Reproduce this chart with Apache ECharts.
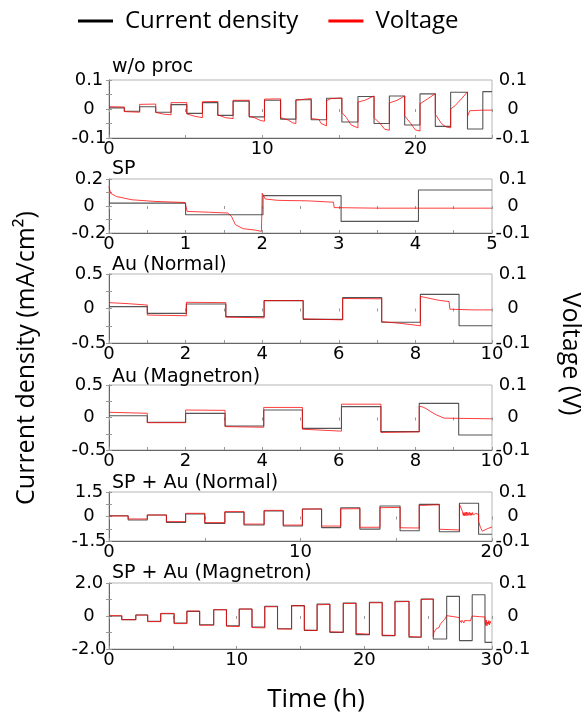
<!DOCTYPE html>
<html>
<head>
<meta charset="utf-8">
<script src="https://cdn.jsdelivr.net/npm/echarts@6/dist/echarts.min.js"></script>
<style>
  html, body { margin: 0; padding: 0; background: #fff; }
  #chart { width: 586px; height: 715px; }
</style>
</head>
<body>
<div id="chart"></div>
<script>
// ---------- Panel titles ----------
const panelTitles = ['w/o proc', 'SP', 'Au (Normal)', 'Au (Magnetron)', 'SP + Au (Normal)', 'SP + Au (Magnetron)'];

// ---------- w/o proc ----------
const stepTimesWoProc = [0, 1.0, 2.0, 3.05, 4.05, 5.08, 6.1, 7.1, 8.1, 9.15, 10.15, 11.2, 12.2, 13.2, 14.2, 15.2, 16.25, 17.3, 18.3, 19.3, 20.3, 21.3, 22.3, 23.4, 24.4, 25];
const currentWoProc = [0.004, -0.008, 0.008, -0.011, 0.015, -0.015, 0.022, -0.022, 0.027, -0.027, 0.03, -0.035, 0.032, -0.037, 0.037, -0.045, 0.043, -0.05, 0.045, -0.055, 0.052, -0.06, 0.058, -0.069, 0.06];
const voltageWoProc = [
  [0, 0.008], [1.0, 0.007],
  [1.0, -0.009], [2.0, -0.011],
  [2.0, 0.016], [3.05, 0.017],
  [3.05, -0.012], [3.6, -0.018], [4.05, -0.02],
  [4.05, 0.022], [5.08, 0.022],
  [5.08, -0.017], [5.6, -0.025], [6.1, -0.03],
  [6.1, 0.025], [7.1, 0.026],
  [7.1, -0.02], [7.6, -0.03], [8.1, -0.033],
  [8.1, 0.03], [9.15, 0.03],
  [9.15, -0.025], [9.5, -0.03], [9.9, -0.04], [10.15, -0.042],
  [10.15, 0.034], [11.2, 0.035],
  [11.2, -0.03], [11.7, -0.038], [12.0, -0.048], [12.2, -0.05],
  [12.2, 0.03], [12.8, 0.034], [13.2, 0.036],
  [13.2, -0.033], [13.7, -0.036], [13.85, -0.05], [14.2, -0.058],
  [14.2, 0.029], [14.5, 0.036], [15.2, 0.038],
  [15.2, -0.012], [15.5, -0.03], [15.8, -0.055], [16.25, -0.065],
  [16.25, 0.024], [16.7, 0.03], [17.3, 0.045],
  [17.3, -0.03], [17.7, -0.05], [18.0, -0.07], [18.3, -0.073],
  [18.3, 0.021], [18.8, 0.03], [19.3, 0.045],
  [19.3, -0.024], [19.7, -0.05], [20.0, -0.072], [20.3, -0.076],
  [20.3, 0.018], [20.8, 0.035], [21.3, 0.053],
  [21.3, -0.018], [21.7, -0.05], [22.0, -0.062], [22.3, -0.065],
  [22.3, 0.0], [22.6, 0.012], [23.0, 0.035], [23.4, 0.059],
  [23.4, -0.025], [23.55, -0.006], [24.4, -0.004], [25, -0.004]
];

// ---------- SP ----------
const stepTimesSP = [0, 1.0, 2.01, 3.03, 4.04, 5];
const currentSP = [0.021, -0.065, 0.077, -0.114, 0.119];
const voltageSP = [
  [0, 0.072], [0.02, 0.047], [0.1, 0.035], [0.3, 0.023], [0.6, 0.017], [0.99, 0.013],
  [1.0, 0.004], [1.02, -0.02], [1.3, -0.023], [1.55, -0.026], [1.6, -0.039], [1.65, -0.069], [1.75, -0.084], [1.9, -0.089], [1.99, -0.094],
  [2.0, 0.047], [2.02, 0.051], [2.04, 0.026], [2.2, 0.021], [2.6, 0.019], [2.93, 0.014],
  [2.94, -0.006], [3.5, -0.008], [5, -0.008]
];

// ---------- Au (Normal) ----------
const stepTimesAuN = [0, 1.0, 2.02, 3.05, 4.05, 5.07, 6.1, 7.12, 8.13, 9.14, 10];
const currentAuN = [0.027, -0.07, 0.065, -0.118, 0.114, -0.157, 0.157, -0.2, 0.205, -0.249];
const voltageAuN = [
  [0, 0.017], [0.5, 0.014], [1.0, 0.010],
  [1.0, -0.019], [2.02, -0.021],
  [2.02, 0.018], [3.05, 0.017],
  [3.05, -0.025], [4.05, -0.027],
  [4.05, 0.023], [5.07, 0.023],
  [5.07, -0.030], [6.1, -0.033],
  [6.1, 0.029], [7.12, 0.028],
  [7.12, -0.038], [7.6, -0.043], [8.13, -0.05],
  [8.13, 0.035], [8.3, 0.031], [8.6, 0.024], [8.88, 0.02],
  [8.9, -0.002], [9.5, -0.004], [10, -0.004]
];

// ---------- Au (Magnetron) ----------
const stepTimesAuM = [0, 1.0, 2.0, 3.03, 4.04, 5.05, 6.07, 7.1, 8.1, 9.13, 10];
const currentAuM = [0.028, -0.074, 0.064, -0.131, 0.115, -0.167, 0.167, -0.218, 0.218, -0.269];
const voltageAuM = [
  [0, 0.016], [1.0, 0.013],
  [1.0, -0.016], [2.0, -0.016],
  [2.0, 0.023], [3.03, 0.022],
  [3.03, -0.028], [4.04, -0.030],
  [4.04, 0.031], [5.05, 0.031],
  [5.05, -0.036], [6.07, -0.042],
  [6.07, 0.041], [7.1, 0.041],
  [7.1, -0.046], [8.1, -0.044],
  [8.1, 0.035], [8.2, 0.032], [8.3, 0.026], [8.4, 0.018], [8.55, 0.008], [8.75, -0.002], [10, -0.004]
];

// ---------- SP + Au (Normal) ----------
const stepTimesSPAuN = [0, 1.0, 2.0, 3.0, 4.0, 5.0, 6.05, 7.05, 8.1, 9.1, 10.1, 11.1, 12.1, 13.1, 14.15, 15.2, 16.2, 17.25, 18.3, 19.3, 20];
const currentSPAuN = [0.05, -0.21, 0.09, -0.36, 0.15, -0.42, 0.26, -0.52, 0.34, -0.58, 0.46, -0.68, 0.54, -0.77, 0.64, -0.87, 0.74, -0.93, 0.81, -1.09];
const voltageSPAuN = [
  [0, 0.002], [1.0, 0.002],
  [1.0, -0.01], [2.0, -0.01],
  [2.0, 0.006], [3.0, 0.006],
  [3.0, -0.021], [4.0, -0.021],
  [4.0, 0.013], [5.0, 0.013],
  [5.0, -0.025], [6.05, -0.025],
  [6.05, 0.02], [7.05, 0.02],
  [7.05, -0.031], [8.1, -0.031],
  [8.1, 0.025], [9.1, 0.025],
  [9.1, -0.035], [10.1, -0.035],
  [10.1, 0.03], [11.1, 0.031],
  [11.1, -0.039], [12.1, -0.039],
  [12.1, 0.031], [13.1, 0.032],
  [13.1, -0.044], [14.15, -0.044],
  [14.15, 0.036], [15.2, 0.037],
  [15.2, -0.046], [16.2, -0.047],
  [16.2, 0.045], [17.25, 0.048],
  [17.25, -0.052], [18.3, -0.055],
  [18.3, 0.05], [18.4, 0.046], [18.46, 0.02], [18.5, 0.004], [18.53, 0.016], [18.56, 0.003], [18.6, 0.017],
  [18.63, 0.004], [18.67, 0.018], [18.7, 0.003], [18.74, 0.016], [18.78, 0.005], [18.82, 0.017], [18.86, 0.004],
  [18.9, 0.015], [18.94, 0.005], [18.98, 0.016], [19.02, 0.006], [19.06, 0.014], [19.1, 0.005], [19.15, 0.013],
  [19.2, 0.006], [19.25, 0.011], [19.3, 0.008],
  [19.3, -0.02], [19.4, -0.045], [19.5, -0.06], [19.6, -0.058], [19.75, -0.05], [20, -0.043]
];

// ---------- SP + Au (Magnetron) ----------
const stepTimesSPAuM = [0, 1.0, 2.1, 3.03, 4.05, 5.1, 6.1, 7.1, 8.2, 9.2, 10.2, 11.2, 12.2, 13.2, 14.3, 15.3, 16.3, 17.3, 18.35, 19.35, 20.4, 21.4, 22.4, 23.5, 24.45, 25.4, 26.45, 27.45, 28.45, 29.45, 30];
const currentSPAuM = [0.0, -0.22, 0.06, -0.32, 0.14, -0.42, 0.28, -0.53, 0.38, -0.59, 0.42, -0.67, 0.59, -0.77, 0.63, -0.87, 0.73, -0.99, 0.79, -1.13, 0.83, -1.19, 0.89, -1.29, 1.03, -1.39, 1.19, -1.49, 1.29, -1.60];
const voltageSPAuM = [
  [0, 0.001], [1.0, 0.001],
  [1.0, -0.011], [2.1, -0.011],
  [2.1, 0.003], [3.03, 0.003],
  [3.03, -0.017], [4.05, -0.017],
  [4.05, 0.008], [5.1, 0.008],
  [5.1, -0.023], [6.1, -0.023],
  [6.1, 0.015], [7.1, 0.015],
  [7.1, -0.028], [8.2, -0.028],
  [8.2, 0.019], [9.2, 0.019],
  [9.2, -0.031], [10.2, -0.032],
  [10.2, 0.021], [11.2, 0.021],
  [11.2, -0.035], [12.2, -0.036],
  [12.2, 0.028], [13.2, 0.028],
  [13.2, -0.039], [14.3, -0.040],
  [14.3, 0.031], [15.3, 0.031],
  [15.3, -0.043], [16.3, -0.044],
  [16.3, 0.034], [17.3, 0.035],
  [17.3, -0.048], [18.35, -0.049],
  [18.35, 0.038], [19.35, 0.038],
  [19.35, -0.053], [20.4, -0.055],
  [20.4, 0.040], [21.4, 0.040],
  [21.4, -0.058], [22.4, -0.059],
  [22.4, 0.043], [23.5, 0.044],
  [23.5, -0.062], [24.45, -0.064],
  [24.45, 0.050], [25.4, 0.051],
  [25.4, -0.062], [25.45, -0.05], [25.5, -0.055], [25.55, -0.045], [25.6, -0.048], [25.65, -0.038], [25.7, -0.042],
  [25.8, -0.032], [25.85, -0.035], [25.95, -0.025], [26.0, -0.028], [26.1, -0.018], [26.2, -0.016], [26.3, -0.01], [26.45, -0.006],
  [26.45, 0.001], [27.0, -0.002], [27.45, -0.005],
  [27.45, -0.012], [27.5, -0.018], [27.55, -0.011], [27.6, -0.02], [27.65, -0.013], [27.7, -0.019], [27.75, -0.012],
  [27.8, -0.021], [27.85, -0.014], [27.9, -0.018], [27.95, -0.012], [28.0, -0.02], [28.1, -0.014], [28.2, -0.019],
  [28.3, -0.015], [28.45, -0.017],
  [28.45, 0.0], [29.0, -0.002], [29.45, -0.003],
  [29.45, -0.015], [29.5, -0.028], [29.55, -0.012], [29.6, -0.03], [29.65, -0.018], [29.7, -0.025], [29.75, -0.014],
  [29.8, -0.027], [29.85, -0.016], [29.9, -0.022], [30, -0.018]
];

// ---------- Axis ranges per panel ----------
const timeMax    = [25, 5, 10, 10, 20, 30];
const timeTick   = [5, 0.5, 1, 1, 5, 5];
const timeLabel  = [10, 1, 2, 2, 10, 10];
const currentMax = [0.1, 0.2, 0.5, 0.5, 1.5, 2.0];
const voltageMax = [0.1, 0.1, 0.1, 0.1, 0.1, 0.1];

const stepTimes = [stepTimesWoProc, stepTimesSP, stepTimesAuN, stepTimesAuM, stepTimesSPAuN, stepTimesSPAuM];
const currents  = [currentWoProc, currentSP, currentAuN, currentAuM, currentSPAuN, currentSPAuM];
const voltages  = [voltageWoProc, voltageSP, voltageAuN, voltageAuM, voltageSPAuN, voltageSPAuM];

// ---------- Layout ----------
const gridLeft = 109, gridRight = 94;
const gridTops    = [80, 179, 274, 385, 492, 583];
const gridHeights = [58, 54, 69, 65, 49, 66];
const titleTops   = [58, 160, 256, 368, 474, 564];

const isMultiple = (v, s) => Math.abs(v / s - Math.round(v / s)) < 1e-6;
const fmtY = v => (Math.abs(v) < 1e-9 ? '0' : v.toFixed(1));

const tickFont = { color: '#000', fontFamily: 'DejaVu Sans', fontSize: 18 };
const tickStyle = { show: true, inside: true, length: 3, lineStyle: { color: '#999', width: 1 } };

const grid = [], xAxis = [], yAxis = [], series = [], title = [];

for (let i = 0; i < 6; i++) {
  grid.push({
    left: gridLeft, right: gridRight, top: gridTops[i], height: gridHeights[i],
    show: true, borderColor: '#b5b5b5', borderWidth: 1, backgroundColor: 'transparent'
  });
  title.push({
    text: panelTitles[i], left: 112, top: titleTops[i], padding: 0,
    textStyle: { fontFamily: 'DejaVu Sans', fontSize: 19, fontWeight: 'normal', color: '#000' }
  });
  const step = timeLabel[i];
  xAxis.push({
    gridIndex: i, type: 'value', min: 0, max: timeMax[i], interval: timeTick[i], position: 'bottom',
    axisLine: { show: true, onZero: false, lineStyle: { color: '#666', width: 1 } },
    axisTick: tickStyle,
    axisLabel: Object.assign({ margin: 2, formatter: v => (isMultiple(v, step) ? String(v) : '') }, tickFont),
    splitLine: { show: false }
  });
  xAxis.push({
    gridIndex: i, type: 'value', min: 0, max: timeMax[i], interval: timeTick[i], position: 'top',
    axisLine: { show: false }, axisTick: tickStyle, axisLabel: { show: false }, splitLine: { show: false }
  });
  const cMax = currentMax[i], vMax = voltageMax[i];
  yAxis.push({
    gridIndex: i, type: 'value', min: -cMax, max: cMax, interval: cMax / 2, position: 'left',
    axisLine: { show: true, onZero: false, lineStyle: { color: '#666', width: 1 } },
    axisTick: tickStyle,
    axisLabel: Object.assign({ margin: 20, align: 'center', formatter: v => (isMultiple(v, cMax) ? fmtY(v) : '') }, tickFont),
    splitLine: { show: false }
  });
  yAxis.push({
    gridIndex: i, type: 'value', min: -vMax, max: vMax, interval: vMax / 2, position: 'right',
    axisLine: { show: false },
    axisTick: tickStyle,
    axisLabel: Object.assign({ margin: 21, align: 'center', formatter: v => (isMultiple(v, vMax) ? fmtY(v) : '') }, tickFont),
    splitLine: { show: false }
  });

  // step curve for the applied current density
  const t = stepTimes[i], c = currents[i];
  const stepData = t.map((x, k) => [x, c[Math.min(k, c.length - 1)]]);
  series.push({
    name: 'Current density', type: 'line', xAxisIndex: 2 * i, yAxisIndex: 2 * i,
    data: stepData, step: 'end', showSymbol: false, silent: true, z: 2,
    itemStyle: { color: '#000' }, lineStyle: { color: '#555', width: 1.1 }
  });
  series.push({
    name: 'Voltage', type: 'line', xAxisIndex: 2 * i, yAxisIndex: 2 * i + 1,
    data: voltages[i], showSymbol: false, silent: true, z: 3,
    itemStyle: { color: '#ff0000' }, lineStyle: { color: '#ff0000', width: 0.9, opacity: 0.85 }
  });
}

const chart = echarts.init(document.getElementById('chart'), null, { renderer: 'canvas' });
chart.setOption({
  animation: false,
  backgroundColor: '#fff',
  title: title,
  legend: {
    data: ['Current density', 'Voltage'],
    left: 78, top: 9, padding: 0,
    icon: 'rect', itemWidth: 35, itemHeight: 3, itemGap: 30,
    textStyle: { fontFamily: 'Open Sans', fontSize: 24, color: '#000', padding: [0, 0, 0, 7] }
  },
  grid: grid,
  xAxis: xAxis,
  yAxis: yAxis,
  series: series,
  graphic: [
    { type: 'text', x: 316, y: 700,
      style: { text: 'Time (h)', font: '26px "Open Sans"', fill: '#000', align: 'center', verticalAlign: 'middle' } },
    { type: 'text', x: 27, y: 358, rotation: Math.PI / 2,
      style: { text: 'Current density (mA/cm²)', font: '25px "Open Sans"', fill: '#000', align: 'center', verticalAlign: 'middle' } },
    { type: 'text', x: 570, y: 354, rotation: -Math.PI / 2,
      style: { text: 'Voltage (V)', font: '25px "Open Sans"', fill: '#000', align: 'center', verticalAlign: 'middle' } }
  ]
});
</script>
</body>
</html>
